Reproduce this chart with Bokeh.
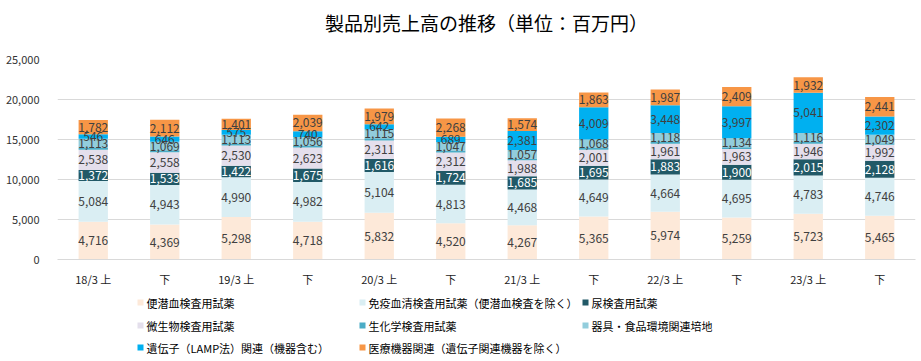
from bokeh.plotting import figure
from bokeh.layouts import column
from bokeh.models import (ColumnDataSource, Range1d, NumeralTickFormatter, FixedTicker)
from bokeh.core.properties import value
from bokeh.embed import file_html
from bokeh.resources import INLINE

# ---------------- data ----------------
title_text = "製品別売上高の推移（単位：百万円）"
periods = ["18/3上", "18/3下", "19/3上", "19/3下", "20/3上", "20/3下",
           "21/3上", "21/3下", "22/3上", "22/3下", "23/3上", "23/3下"]
tick_labels = ["18/3 上", "下", "19/3 上", "下", "20/3 上", "下",
               "21/3 上", "下", "22/3 上", "下", "23/3 上", "下"]

series_names = [
    "便潜血検査用試薬",
    "免疫血清検査用試薬（便潜血検査を除く）",
    "尿検査用試薬",
    "微生物検査用試薬",
    "生化学検査用試薬",
    "器具・食品環境関連培地",
    "遺伝子（LAMP法）関連（機器含む）",
    "医療機器関連（遺伝子関連機器を除く）",
]

fob     = [4716, 4369, 5298, 4718, 5832, 4520, 4267, 5365, 5974, 5259, 5723, 5465]
immuno  = [5084, 4943, 4990, 4982, 5104, 4813, 4468, 4649, 4664, 4695, 4783, 4746]
urine   = [1372, 1533, 1422, 1675, 1616, 1724, 1685, 1695, 1883, 1900, 2015, 2128]
micro   = [2538, 2558, 2530, 2623, 2311, 2312, 1988, 2001, 1961, 1963, 1946, 1992]
biochem = [280, 250, 250, 250, 280, 250, 230, 230, 220, 200, 220, 200]
equip   = [1113, 1069, 1113, 1056, 1115, 1047, 1057, 1068, 1118, 1134, 1116, 1049]
gene    = [546, 646, 575, 740, 642, 689, 2381, 4009, 3448, 3997, 5041, 2302]
device  = [1782, 2112, 1401, 2039, 1979, 2268, 1574, 1863, 1987, 2409, 1932, 2441]

y_ticks = [0, 5000, 10000, 15000, 20000, 25000]

# ---------------- styles ----------------
colors = ["#FDE9D9", "#DAEEF3", "#215967", "#E4DFEC", "#4BACC6", "#92CDDC", "#00B0F0", "#F79646"]
label_colors = ["#404040", "#404040", "#FFFFFF", "#404040", None, "#404040", "#404040", "#404040"]
JP = "Noto Sans CJK JP"
W = 921
FL, FR = 57, 915   # frame left / right edge in page pixels


def strip(h):
    # helper strip whose data coordinates equal page pixels (frame aligned with the chart)
    f = figure(x_range=Range1d(FL, FR), y_range=Range1d(h, 0),
               width=W, height=h, output_backend="svg", toolbar_location=None,
               min_border_left=FL, min_border_right=W - FR,
               min_border_top=0, min_border_bottom=0)
    f.xaxis.visible = False
    f.yaxis.visible = False
    f.grid.grid_line_color = None
    f.outline_line_color = None
    return f


# ---------------- title strip ----------------
TH = 44
tf = strip(TH)
tf.text(x=[(FL + FR) / 2], y=[22], text=[title_text], text_align="center", text_baseline="middle",
        text_color="#000000", text_font=value(JP), text_font_size="19px")

# ---------------- main chart ----------------
series = [fob, immuno, urine, micro, biochem, equip, gene, device]
keys = ["s%d" % i for i in range(len(series))]
xpos = list(range(len(periods)))

data = {"x": xpos, "period": periods}
for k, v in zip(keys, series):
    data[k] = v
source = ColumnDataSource(data)

p = figure(x_range=Range1d(-0.5, len(periods) - 0.5),
           y_range=Range1d(0, 25000),
           width=W, height=246, output_backend="svg", toolbar_location=None,
           min_border_left=FL, min_border_right=W - FR, min_border_top=15, min_border_bottom=31)

p.vbar_stack(keys, x="x", width=0.41, color=colors, line_color=None, source=source)

lx, ly, lt, lc = [], [], [], []
bottoms = [0] * len(periods)
for vals, lcol in zip(series, label_colors):
    for i, v in enumerate(vals):
        if lcol is not None:
            lx.append(xpos[i])
            ly.append(bottoms[i] + v / 2)
            lt.append("{:,}".format(v))
            lc.append(lcol)
        bottoms[i] += v
lab_src = ColumnDataSource(dict(x=lx, y=ly, t=lt, c=lc))
p.text(x="x", y="y", text="t", text_color="c", source=lab_src,
       text_align="center", text_baseline="middle",
       text_font=value(JP), text_font_size="12px")

p.yaxis.ticker = FixedTicker(ticks=y_ticks)
p.yaxis.formatter = NumeralTickFormatter(format="0,0")
p.yaxis.axis_line_color = None
p.yaxis.major_tick_line_color = None
p.yaxis.minor_tick_line_color = None
p.yaxis.major_label_standoff = 12
p.yaxis.major_label_text_font = JP
p.yaxis.major_label_text_font_size = "11px"
p.yaxis.major_label_text_color = "#333333"

p.xaxis.ticker = FixedTicker(ticks=xpos)
p.xaxis.major_label_overrides = {i: t for i, t in zip(xpos, tick_labels)}
p.xaxis.axis_line_color = "#D9D9D9"
p.xaxis.major_tick_line_color = None
p.xaxis.minor_tick_line_color = None
p.xaxis.major_label_standoff = 5
p.xaxis.major_label_text_font = JP
p.xaxis.major_label_text_font_size = "11px"
p.xaxis.major_label_text_color = "#222222"

p.xgrid.grid_line_color = None
p.ygrid.grid_line_color = "#D9D9D9"
p.ygrid.ticker = FixedTicker(ticks=y_ticks)
p.outline_line_color = None

# ---------------- legend strip ----------------
LH = 71
lg = strip(LH)
col_x = [137, 359, 582]      # square left edges (px)
row_y = [12, 35, 57]         # row centres (px)
grid = [(0, 0), (1, 0), (2, 0), (0, 1), (1, 1), (2, 1), (0, 2), (1, 2)]  # (col,row) per series

sq = dict(x=[col_x[c] + 3 for c, r in grid], y=[row_y[r] for c, r in grid], color=colors)
lg.rect(x="x", y="y", width=6, height=6, fill_color="color", line_color=None,
        source=ColumnDataSource(sq))
tx = dict(x=[col_x[c] + 9 for c, r in grid], y=[row_y[r] for c, r in grid], t=series_names)
lg.text(x="x", y="y", text="t", source=ColumnDataSource(tx),
        text_align="left", text_baseline="middle", text_color="#000000",
        text_font=value(JP), text_font_size="11px")

open("out.html", "w").write(file_html(column(tf, p, lg, spacing=0), INLINE))
